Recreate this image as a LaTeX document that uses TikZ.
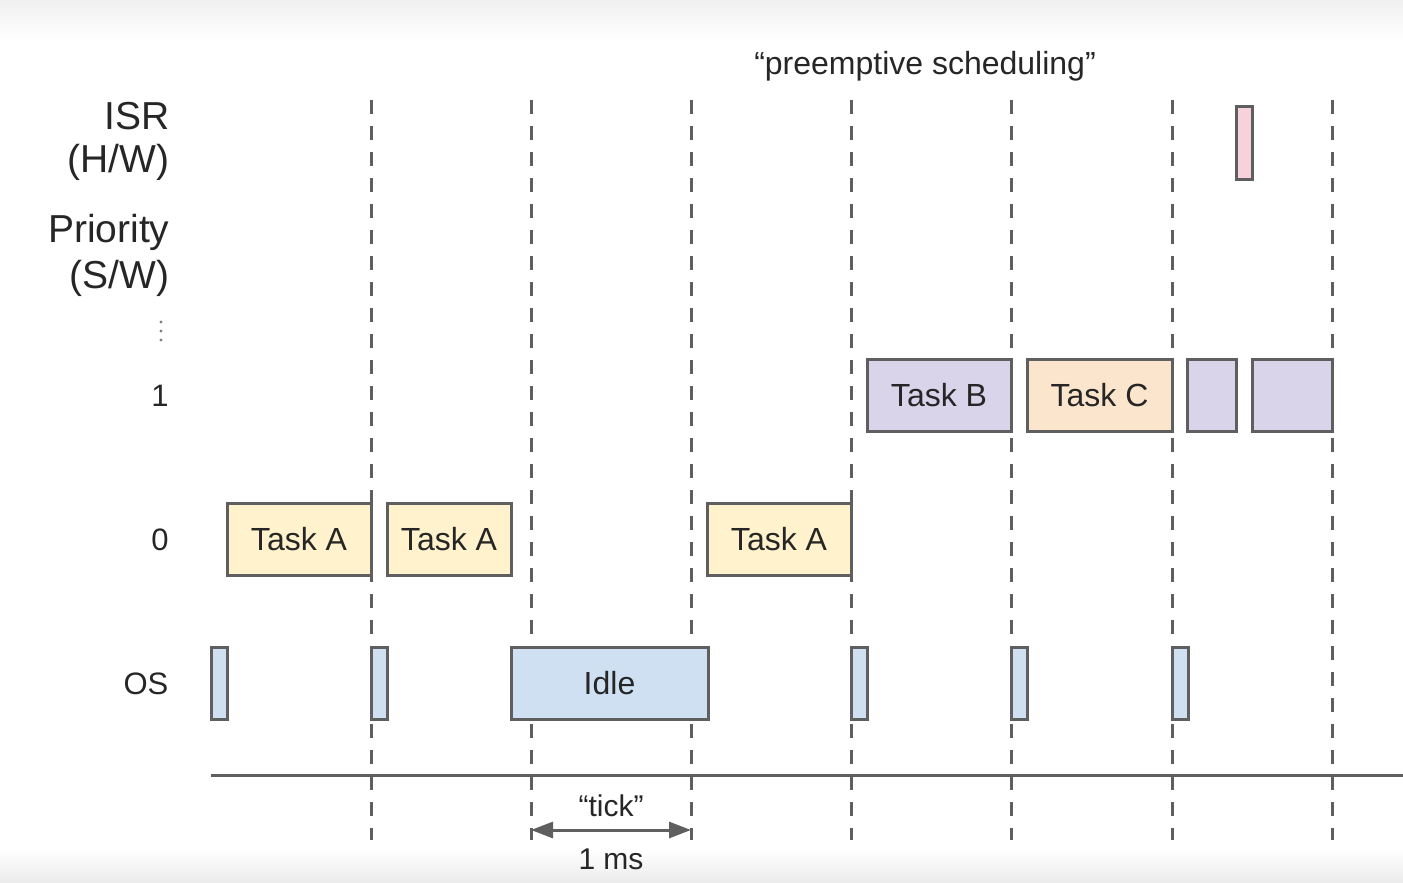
\documentclass[tikz,border=0pt]{standalone}
\usepackage{fontspec}
\setmainfont{Liberation Sans}
\usetikzlibrary{arrows.meta}
\definecolor{edgegray}{HTML}{5F5F5F}
\definecolor{txtgray}{HTML}{262626}
\definecolor{taskA}{HTML}{FFF2CC}
\definecolor{taskB}{HTML}{D9D4EA}
\definecolor{taskC}{HTML}{FCE5CD}
\definecolor{osblue}{HTML}{CFE0F3}
\definecolor{isrpink}{HTML}{F8D2DB}

\begin{document}
\begin{tikzpicture}[x=0.5pt, y=-0.5pt, >={Triangle[length=11pt,width=8pt]}, semithick]
        \tikzstyle{slot}=[draw=edgegray, line width=1.5pt, minimum height=36pt, inner sep=0pt, text=txtgray, font=\fontsize{16}{18}\selectfont]
        \tikzstyle{rowlabel}=[anchor=east, inner sep=0pt, text=txtgray, font=\fontsize{19.5}{21}\selectfont]
        \tikzstyle{levellabel}=[inner sep=0pt, text=txtgray, font=\fontsize{15.5}{17}\selectfont]
        \tikzstyle{note}=[inner sep=0pt, text=txtgray, font=\fontsize{15}{17}\selectfont]
        \tikzstyle{tickline}=[draw=edgegray, line width=1.5pt, dash pattern=on 7pt off 6pt]

        \useasboundingbox (0,0) rectangle (1403,883);
        \shade[top color=black!6, bottom color=white] (0,0) rectangle (1403,40);
        \shade[top color=white, bottom color=black!8] (0,850) rectangle (1403,883);

        % row labels
        \node[rowlabel] (isr) at (170,116) {ISR};
        \node[rowlabel] (hw) at (170,162) {(H/W)};
        \node[rowlabel] (prio) at (170,232) {Priority};
        \node[rowlabel] (sw) at (170,278) {(S/W)};
        \foreach \y in {322,331,340}
            \fill[edgegray!80] (161,\y) circle (0.8pt);
        \node[levellabel] (lvl1) at (160,396) {1};
        \node[levellabel] (lvl0) at (160,540) {0};
        \node[levellabel, anchor=east] (os) at (169,684) {OS};

        \node[note, font=\fontsize{16}{18}\selectfont] (preempt) at (925,66) {“preemptive scheduling”};

        % ticks every 1 ms
        \foreach \x in {371,531,691,851,1011,1172,1332}
            \draw[tickline] (\x,100) -- (\x,840);
        \draw[edgegray, line width=1.5pt] (211,775) -- (1403,775);

        % ISR
        \node[slot, fill=isrpink, minimum width=8pt] (irq) at (1244,143) {};

        % priority 1
        \node[slot, fill=taskB, minimum width=72pt] (B1) at (939,395) {Task B};
        \node[slot, fill=taskC, minimum width=72.5pt] (C1) at (1099.5,395) {Task C};
        \node[slot, fill=taskB, minimum width=24.5pt] (B2) at (1211.5,395) {};
        \node[slot, fill=taskB, minimum width=40pt] (B3) at (1292,395) {};

        % priority 0
        \node[slot, fill=taskA, minimum width=72pt] (A1) at (299,539) {Task A};
        \node[slot, fill=taskA, minimum width=62pt] (A2) at (449,539) {Task A};
        \node[slot, fill=taskA, minimum width=72pt] (A3) at (779,539) {Task A};

        % OS
        \node[slot, fill=osblue, minimum width=8pt] (os1) at (219,683.5) {};
        \node[slot, fill=osblue, minimum width=8pt] (os2) at (379,683.5) {};
        \node[slot, fill=osblue, minimum width=98.5pt] (idle) at (609.5,683.5) {Idle};
        \node[slot, fill=osblue, minimum width=8pt] (os3) at (859,683.5) {};
        \node[slot, fill=osblue, minimum width=8pt] (os4) at (1019,683.5) {};
        \node[slot, fill=osblue, minimum width=8pt] (os5) at (1180,683.5) {};

        % one tick
        \coordinate (tk1) at (531,830);
        \coordinate (tk2) at (691,830);
        \draw[<->, edgegray, line width=1.5pt] (tk1) -- (tk2);
        \node[note] (tick) at (611,806) {“tick”};
        \node[note] (ms) at (611,859) {1 ms};
\end{tikzpicture}
\end{document}
